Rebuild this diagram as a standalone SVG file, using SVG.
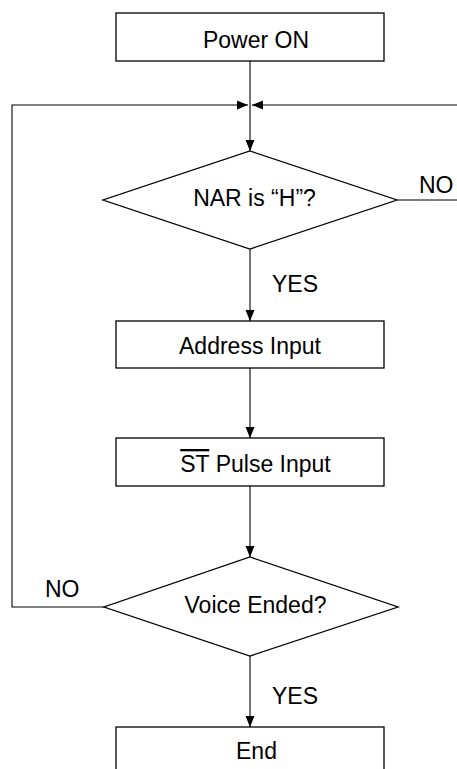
<svg xmlns="http://www.w3.org/2000/svg" width="457" height="769" viewBox="0 0 457 769">
  <defs>
    <style>
      .box { fill: #ffffff; stroke: #000000; stroke-width: 1.3; }
      .line { fill: none; stroke: #000000; stroke-width: 1.1; }
      text { font-family: "Liberation Sans", Arial, sans-serif; font-size: 23px; fill: #000000; }
      .c { text-anchor: middle; }
      .ov { text-decoration: overline; }
    </style>
    <marker id="arrow" markerUnits="userSpaceOnUse" markerWidth="12" markerHeight="10" refX="11" refY="5" orient="auto">
      <path d="M0,0.5 L11,5 L0,9.5 Z" fill="#000000"/>
    </marker>
  </defs>
  <rect width="457" height="769" fill="#ffffff"/>

  <g id="connectors">
    <line class="line" x1="250" y1="61" x2="250" y2="151" marker-end="url(#arrow)"/>
    <polyline class="line" points="104,607 12,607 12,105 248,105" marker-end="url(#arrow)"/>
    <polyline class="line" points="398,200 470,200 470,105 252,105" marker-end="url(#arrow)"/>
    <line class="line" x1="250" y1="249" x2="250" y2="321" marker-end="url(#arrow)"/>
    <line class="line" x1="250" y1="368" x2="250" y2="438" marker-end="url(#arrow)"/>
    <line class="line" x1="250" y1="486" x2="250" y2="557" marker-end="url(#arrow)"/>
    <line class="line" x1="250" y1="656" x2="250" y2="727" marker-end="url(#arrow)"/>
    <text x="419" y="193">NO</text>
    <text x="272" y="292">YES</text>
    <text x="45" y="597">NO</text>
    <text x="272" y="704">YES</text>
  </g>

  <g id="power-on">
    <rect class="box" x="116" y="13" width="268" height="48"/>
    <text class="c" x="256" y="48">Power ON</text>
  </g>

  <g id="nar-check">
    <polygon class="box" points="250,151 397,200 250,249 103,200"/>
    <text class="c" x="254.5" y="206">NAR is “H”?</text>
  </g>

  <g id="address-input">
    <rect class="box" x="116" y="321" width="268" height="47"/>
    <text class="c" x="250" y="354">Address Input</text>
  </g>

  <g id="st-pulse-input">
    <rect class="box" x="116" y="438" width="268" height="48"/>
    <text class="c" x="255.5" y="472"><tspan class="ov">ST</tspan> Pulse Input</text>
  </g>

  <g id="voice-ended">
    <polygon class="box" points="250,557 398,607 250,656 104,607"/>
    <text class="c" x="255.5" y="613">Voice Ended?</text>
  </g>

  <g id="end">
    <rect class="box" x="116" y="727" width="268" height="60"/>
    <text class="c" x="256.5" y="759">End</text>
  </g>
</svg>
